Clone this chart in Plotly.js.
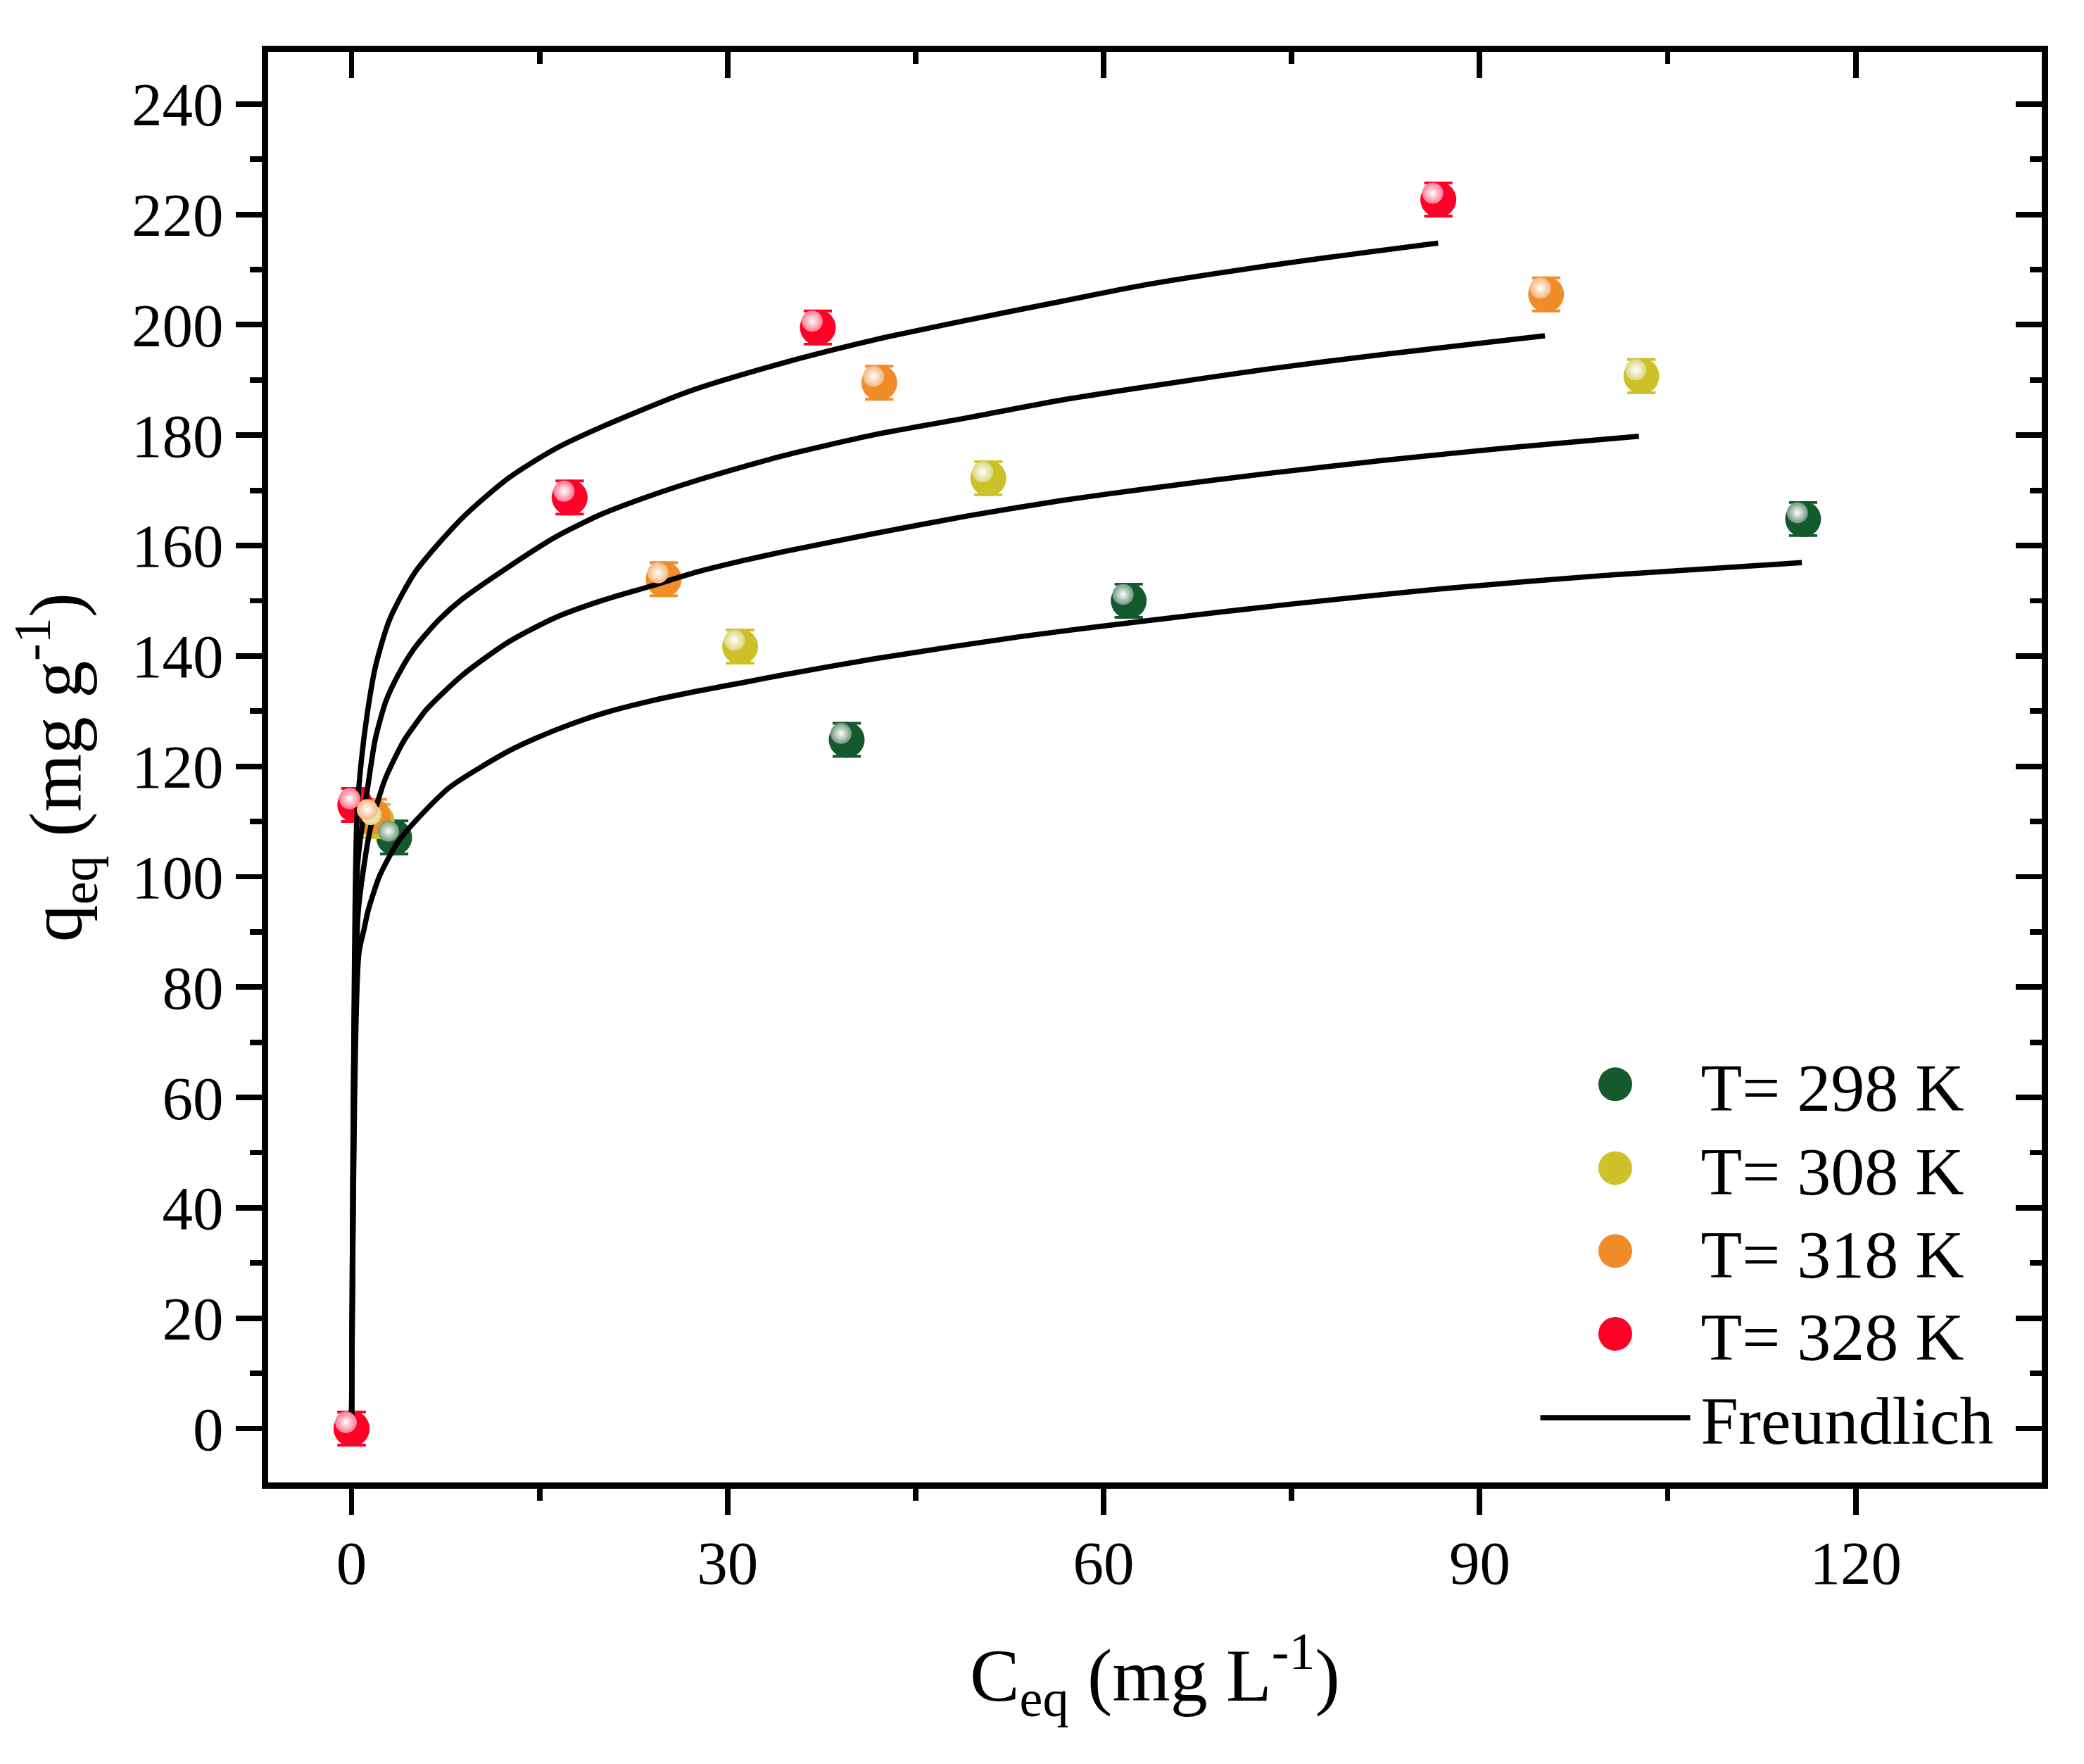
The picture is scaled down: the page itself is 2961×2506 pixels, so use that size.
<!DOCTYPE html>
<html>
<head>
<meta charset="utf-8">
<script src="https://cdn.plot.ly/plotly-3.0.1.min.js"></script>
<style>
    html, body { margin: 0; padding: 0; background: #fff; overflow: hidden; }
    /* the chart is laid out at 1/3 size and zoomed up, so legend symbols keep their size */
    #wrap { width: 987px; height: 835.333px; zoom: 3; }
</style>
</head>
<body>
<div id="wrap"><div id="chart"></div></div>
<script>
const seriesNames = ['T= 298 K', 'T= 308 K', 'T= 318 K', 'T= 328 K'];

const c298 = [0, 3.4, 39.5, 62.0, 115.8];
const q298 = [0, 107.1, 124.8, 150.0, 164.8];
const e298 = [3, 3, 3, 3, 3];

const c308 = [0, 2.0, 31.0, 50.8, 102.9];
const q308 = [0, 110.1, 141.7, 172.2, 190.7];
const e308 = [3, 3, 3, 3, 3];

const c318 = [0, 1.7, 24.9, 42.1, 95.3];
const q318 = [0, 111.0, 153.9, 189.5, 205.5];
const e318 = [3, 3, 3, 3, 3];

const c328 = [0, 0.3, 17.4, 37.2, 86.7];
const q328 = [0, 113.0, 168.7, 199.5, 222.7];
const e328 = [3, 3, 3, 3, 3];

// Freundlich fit curves
const fitC298 = [0, 0.58, 1.0, 1.34, 2.27, 3.77, 6.02, 7.89, 12.57, 16.31, 20.06, 23.8, 27.54, 31.29, 34.28, 41.76, 53.37, 63.48, 75, 87.1, 100, 115.7];
const fitQ298 = [0, 86, 90.5, 94, 100.3, 106.5, 112.3, 116.3, 122.8, 126.6, 129.6, 131.8, 133.6, 135.2, 136.5, 139.5, 143.5, 146.4, 149.4, 152.2, 154.6, 156.9];

const fitC308 = [0, 0.51, 0.96, 1.53, 2.65, 4.14, 5.08, 6.02, 8.83, 12.57, 16.31, 20.06, 23.8, 27.54, 31.29, 34.28, 41.76, 49.25, 56.74, 63.48, 72.84, 82.19, 92.67, 102.7];
const fitQ308 = [0, 93, 101.5, 109, 117.5, 124.5, 127.6, 130.4, 136.5, 142.6, 147.0, 150.1, 152.6, 155.2, 157.3, 158.8, 162.2, 165.4, 168.2, 170.3, 173.0, 175.4, 177.8, 179.8];

const fitC318 = [0, 0.48, 0.96, 1.34, 1.9, 2.74, 3.77, 5.08, 6.95, 8.83, 12.57, 16.31, 20.06, 23.8, 27.54, 31.29, 34.28, 41.76, 49.25, 56.74, 63.48, 72.84, 82.19, 95.2];
const fitQ318 = [0, 102, 111, 117, 125, 131.8, 136.8, 141.6, 146.5, 150.3, 156.2, 161.6, 165.8, 169.0, 171.8, 174.3, 176.2, 180.1, 183.2, 186.4, 188.8, 191.9, 194.6, 198.0];

const fitC328 = [0, 0.43, 0.78, 1.25, 1.9, 3.02, 5.08, 8.83, 12.57, 16.31, 20.06, 27.0, 34.28, 41.76, 49.25, 56.74, 63.48, 74.7, 86.68];
const fitQ328 = [0, 111, 121, 129.5, 138, 146.5, 155.2, 165.0, 172.3, 177.6, 181.6, 188.0, 193.0, 197.3, 200.9, 204.3, 207.3, 211.2, 214.8];

const xTickStep = 30;
const yTickStep = 20;

// styling
const colors = ['#155a2c', '#cdc12a', '#f08d2a', '#ff0026'];
const shine = ['#6f967c', '#ddd57f', '#f5b47a', '#ff7890'];
const font = 'Liberation Serif, Times New Roman, serif';

const xRange = [-6.67, 134.84];
const yRange = [-9.76, 249.4];

// one small legend per entry, so the rows sit where the original has them
const legendIds = ['legend', 'legend2', 'legend3', 'legend4', 'legend5'];
const legendTops = [0.3165, 0.2583, 0.2007, 0.1432, 0.085];

const pts = [[c298, q298, e298], [c308, q308, e308], [c318, q318, e318], [c328, q328, e328]];
const fits = [[fitC298, fitQ298], [fitC308, fitQ308], [fitC318, fitQ318], [fitC328, fitQ328]];

const traces = [];

pts.forEach(function (p, i) {
    traces.push({
        x: p[0], y: p[1], name: seriesNames[i], legend: legendIds[i],
        type: 'scatter', mode: 'markers',
        marker: {size: 17, color: colors[i], line: {width: 0}},
        error_y: {type: 'data', array: p[2], visible: true, color: colors[i], thickness: 1.3, width: 6.7},
        hoverinfo: 'skip'
    });
});

// fit curves go on the mirrored top/right axes, which also draws that frame
fits.forEach(function (f, i) {
    traces.push({
        x: f[0], y: f[1], name: 'Freundlich', legend: legendIds[4],
        xaxis: 'x3', yaxis: 'y3',
        type: 'scatter', mode: 'lines',
        line: {color: 'black', width: 2.5, shape: 'spline', smoothing: 0.7},
        showlegend: i === 0,
        hoverinfo: 'skip'
    });
});

// glossy highlight, drawn on a hidden twin axis pair nudged up and left
pts.forEach(function (p, i) {
    traces.push({
        x: p[0], y: p[1], xaxis: 'x2', yaxis: 'y2',
        type: 'scatter', mode: 'markers', showlegend: false,
        marker: {size: 10, color: shine[i], line: {width: 0},
                 gradient: {type: 'radial', color: 'white'}},
        hoverinfo: 'skip'
    });
});

function axisStyle(extra) {
    const base = {
        showline: true, linewidth: 3, linecolor: 'black',
        ticklen: 12.3, tickwidth: 2.6, tickcolor: 'black',
        showgrid: false, zeroline: false, automargin: false,
        tickfont: {family: font, size: 29, color: 'black'}
    };
    return Object.assign(base, extra);
}

const xDomain = [0.008146, 1];
const yDomain = [0, 0.993114];

const layout = {
    width: 987, height: 835.333,
    margin: {l: 120, r: 20, t: 20, b: 132.833},
    paper_bgcolor: 'white', plot_bgcolor: 'rgba(0,0,0,0)',
    font: {family: font, color: 'black'},
    showlegend: true,
    xaxis: axisStyle({
        range: xRange, domain: xDomain, anchor: 'y',
        ticks: 'outside', tick0: 0, dtick: xTickStep, ticklabelstandoff: -2,
        minor: {dtick: xTickStep / 2, ticks: 'outside', ticklen: 5.6, tickwidth: 2.6, tickcolor: 'black'},
        title: {text: 'C<sub>eq</sub> (mg L<sup>-1</sup>)', font: {family: font, size: 35.3}, standoff: 26}
    }),
    yaxis: axisStyle({
        range: yRange, domain: yDomain, anchor: 'x',
        ticks: 'outside', tick0: 0, dtick: yTickStep,
        minor: {dtick: yTickStep / 2, ticks: 'outside', ticklen: 5.6, tickwidth: 2.6, tickcolor: 'black'},
        title: {text: 'q<sub>eq</sub> (mg g<sup>-1</sup>)', font: {family: font, size: 35.3}, standoff: 13}
    }),
    // mirrored frame with inward ticks
    xaxis3: axisStyle({
        range: xRange, overlaying: 'x', side: 'top', anchor: 'y3',
        ticks: 'inside', tick0: 0, dtick: xTickStep, showticklabels: false,
        minor: {dtick: xTickStep / 2, ticks: 'inside', ticklen: 5.6, tickwidth: 2.6, tickcolor: 'black'}
    }),
    yaxis3: axisStyle({
        range: yRange, overlaying: 'y', side: 'right', anchor: 'x3',
        ticks: 'inside', tick0: 0, dtick: yTickStep, showticklabels: false,
        minor: {dtick: yTickStep / 2, ticks: 'inside', ticklen: 5.6, tickwidth: 2.6, tickcolor: 'black'}
    }),
    // hidden twin axes for the highlights
    xaxis2: {range: xRange, domain: [0.004994, 0.996848], anchor: 'y2', visible: false},
    yaxis2: {range: yRange, domain: [0.004396, 0.99751], anchor: 'x2', visible: false}
};

legendIds.forEach(function (id, i) {
    layout[id] = {
        x: 0.7137, y: legendTops[i], xanchor: 'left', yanchor: 'top',
        bgcolor: 'rgba(0,0,0,0)', borderwidth: 0,
        itemwidth: 71,
        font: {family: font, size: 32, color: 'black'}
    };
});

const config = {
    displayModeBar: false,
    staticPlot: true
};

Plotly.newPlot('chart', traces, layout, config);
</script>
</body>
</html>
